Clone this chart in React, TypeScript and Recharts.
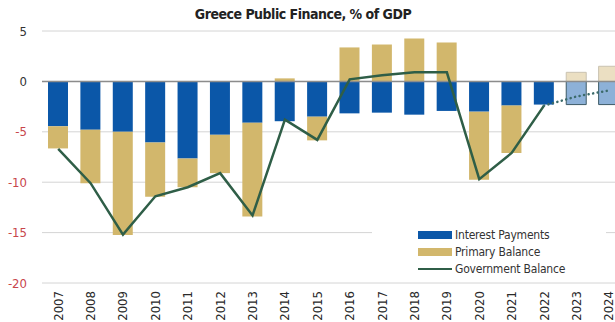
import {
  Bar,
  CartesianGrid,
  Cell,
  ComposedChart,
  Legend,
  Line,
  ReferenceLine,
  XAxis,
  YAxis,
} from "recharts";

const years = [
  "2007", "2008", "2009", "2010", "2011", "2012", "2013", "2014", "2015",
  "2016", "2017", "2018", "2019", "2020", "2021", "2022", "2023", "2024",
];
const interestPayments = [
  -4.45, -4.8, -5.0, -6.05, -7.65, -5.3, -4.1, -3.95, -3.5,
  -3.17, -3.1, -3.3, -2.93, -3.0, -2.4, -2.3, -2.3, -2.3,
];
const primaryBalance = [
  -2.2, -5.3, -10.25, -5.4, -2.85, -3.8, -9.3, 0.3, -2.35,
  3.37, 3.66, 4.26, 3.86, -6.75, -4.7, 0, 0.9, 1.5,
];
const governmentBalance = [
  -6.7, -10.1, -15.2, -11.4, -10.5, -9.1, -13.3, -3.8, -5.8,
  0.2, 0.6, 0.9, 0.9, -9.7, -7.1, -2.4, null, null,
];
const governmentBalanceForecast = [
  null, null, null, null, null, null, null, null, null,
  null, null, null, null, null, null, -2.4, -1.5, -0.9,
];
const forecastYears = ["2023", "2024"];
const yTicks = [5, 0, -5, -10, -15, -20];
const legendNames = ["Interest Payments", "Primary Balance", "Government Balance"];

const data = years.map((year, i) => ({
  year,
  interest: interestPayments[i],
  primary: primaryBalance[i],
  gov: governmentBalance[i],
  govForecast: governmentBalanceForecast[i],
}));

const FONT = '"Liberation Sans Narrow", "DejaVu Sans Condensed", Roboto, sans-serif';
const BLUE = "#0b57a8";
const TAN = "#d2b76c";
const GREEN = "#2f5e47";
const BLUE_PROJ = "#8db1d8";
const TAN_PROJ = "#ebdfc2";

function YTick({ y, payload }: any) {
  const v = payload.value;
  return (
    <text
      x={27}
      y={y}
      textAnchor="end"
      dominantBaseline="central"
      fontFamily={FONT}
      fontSize={13}
      fill={v < 0 ? "#c8464b" : "#333"}
    >
      {v}
    </text>
  );
}

function XTick({ x, y, payload }: any) {
  return (
    <g transform={`translate(${x},${y})`}>
      <text
        transform="rotate(-90)"
        x={y - 291}
        y={0}
        textAnchor="end"
        dominantBaseline="central"
        fontFamily={FONT}
        fontSize={13}
        fontWeight={500}
        fill="#2a2a2a"
      >
        {payload.value}
      </text>
    </g>
  );
}

function LegendBox() {
  const swatch = [
    { kind: "bar", color: BLUE },
    { kind: "bar", color: TAN },
    { kind: "line", color: GREEN },
  ];
  return (
    <div style={{ position: "relative", width: "100%", height: "100%", background: "#fff" }}>
      {legendNames.map((name, i) => (
        <div
          key={name}
          style={{
            position: "absolute",
            left: 46,
            top: 2 + i * 17,
            height: 17,
            display: "flex",
            alignItems: "center",
            fontFamily: FONT,
            fontSize: 12,
            letterSpacing: -0.2,
            color: "#333",
            whiteSpace: "nowrap",
          }}
        >
          <span
            style={{
              display: "inline-block",
              width: 34,
              height: swatch[i].kind === "bar" ? 8 : 2,
              background: swatch[i].color,
              marginRight: 3,
            }}
          />
          {name}
        </div>
      ))}
    </div>
  );
}

export default function App() {
  return (
    <div
      style={{
        position: "absolute",
        left: 0,
        top: 0,
        width: 615,
        height: 322,
        overflow: "hidden",
        background: "#fff",
      }}
    >
      <div
        style={{
          position: "absolute",
          left: 0,
          top: 6,
          width: 606,
          textAlign: "center",
          fontFamily: FONT,
          fontWeight: 700,
          fontSize: 14,
          letterSpacing: -0.5,
          color: "#222",
          zIndex: 2,
        }}
      >
        Greece Public Finance, % of GDP
      </div>
      <ComposedChart
        width={640}
        height={322}
        data={data}
        stackOffset="sign"
        margin={{ top: 31, right: 15, bottom: 0, left: 0 }}
      >
        <CartesianGrid vertical={false} stroke="#d4d4d4" />
        <XAxis
          dataKey="year"
          axisLine={false}
          tickLine={false}
          interval={0}
          height={39}
          tick={<XTick />}
        />
        <YAxis
          domain={[-20, 5]}
          ticks={yTicks}
          width={42}
          axisLine={false}
          tickLine={false}
          tick={<YTick />}
        />
        <Bar dataKey="interest" name={legendNames[0]} stackId="a" barSize={20} fill={BLUE} isAnimationActive={false}>
          {data.map((d) => (
            <Cell
              key={d.year}
              fill={forecastYears.includes(d.year) ? BLUE_PROJ : BLUE}
              stroke={forecastYears.includes(d.year) ? "#3d5a66" : "none"}
              strokeWidth={1}
            />
          ))}
        </Bar>
        <Bar dataKey="primary" name={legendNames[1]} stackId="a" barSize={20} fill={TAN} isAnimationActive={false}>
          {data.map((d) => (
            <Cell
              key={d.year}
              fill={forecastYears.includes(d.year) ? TAN_PROJ : TAN}
              stroke={forecastYears.includes(d.year) ? "#c9c2b0" : "none"}
              strokeWidth={1}
            />
          ))}
        </Bar>
        <ReferenceLine y={0} stroke="#8c8c8c" strokeWidth={1.5} />
        <Line
          dataKey="gov"
          name={legendNames[2]}
          stroke={GREEN}
          strokeWidth={2.5}
          dot={false}
          type="linear"
          isAnimationActive={false}
        />
        <Line
          dataKey="govForecast"
          legendType="none"
          stroke="#3c6b6b"
          strokeWidth={2.5}
          strokeDasharray="0.1 4.5"
          strokeLinecap="round"
          dot={false}
          type="linear"
          isAnimationActive={false}
        />
        <Legend
          layout="vertical"
          align="center"
          verticalAlign="middle"
          wrapperStyle={{ left: 372, top: 224, width: 234, height: 54 }}
          content={<LegendBox />}
        />
      </ComposedChart>
    </div>
  );
}
